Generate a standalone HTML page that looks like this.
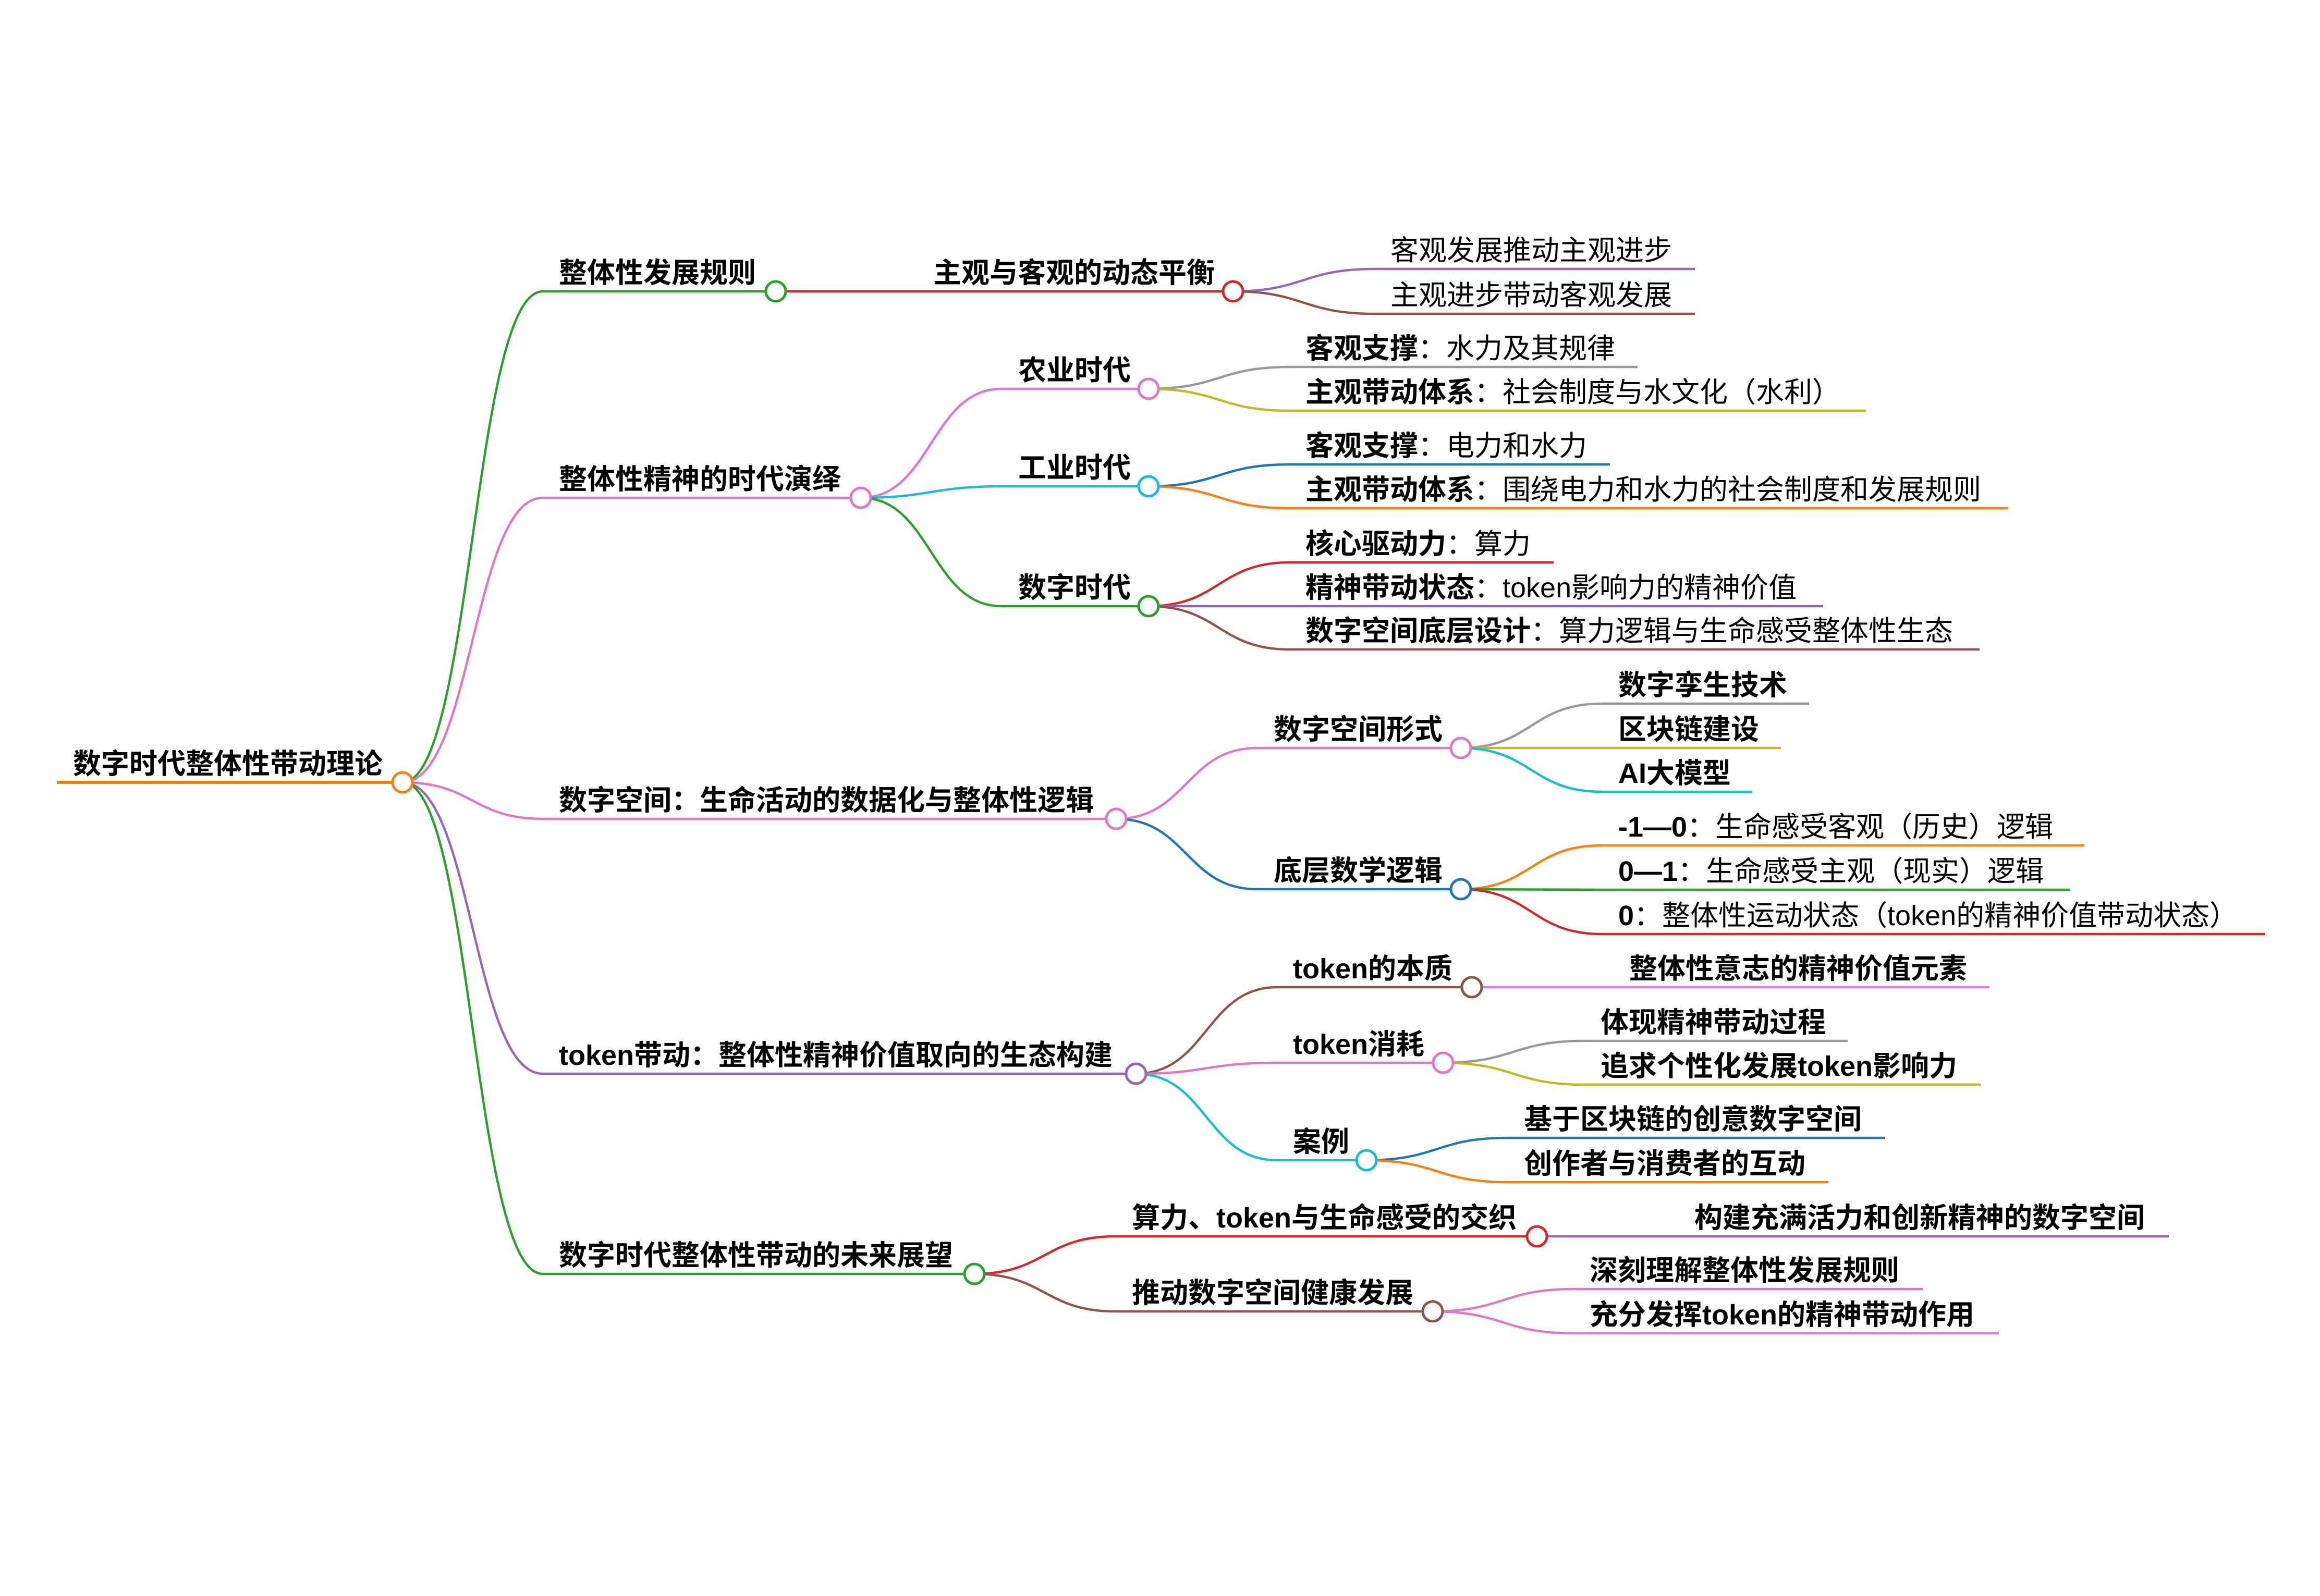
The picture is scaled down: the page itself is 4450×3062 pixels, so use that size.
<!DOCTYPE html>
<html lang="zh">
<head>
<meta charset="utf-8">
<title>数字时代整体性带动理论</title>
<style>
  html,body{margin:0;padding:0;background:#ffffff;}
  svg{display:block;}
  text{font-family:"Liberation Sans","Noto Sans CJK SC",sans-serif;font-size:54px;fill:#000;}
  .b{font-weight:700;}
  .r{font-weight:400;}
  .lk{fill:none;stroke-width:4.5;}
  .ln{stroke-width:4.5;}
  .c{fill:#fff;stroke-width:5;}
</style>
</head>
<body>
<svg width="4450" height="3062" viewBox="0 0 4450 3062" xmlns="http://www.w3.org/2000/svg">
<rect x="0" y="0" width="4450" height="3062" fill="#fff"/>

<!-- ===== LINKS ===== -->
<g class="links">
  <!-- root -> level1 -->
  <path class="lk" stroke="#2ca02c" d="M772 1501 C906.5 1501 906.5 559 1041 559"/>
  <path class="lk" stroke="#e377c2" d="M772 1501 C906.5 1501 906.5 955 1041 955"/>
  <path class="lk" stroke="#e377c2" d="M772 1501 C906.5 1501 906.5 1571 1041 1571"/>
  <path class="lk" stroke="#9467bd" d="M772 1501 C906.5 1501 906.5 2060 1041 2060"/>
  <path class="lk" stroke="#2ca02c" d="M772 1501 C906.5 1501 906.5 2444 1041 2444"/>

  <!-- A -> A1 -->
  <path class="lk" stroke="#d62728" d="M1488 559 L1758 559"/>
  <!-- A1 -> leaves -->
  <path class="lk" stroke="#9467bd" d="M2365 559 C2500 559 2500 516 2635 516"/>
  <path class="lk" stroke="#8c564b" d="M2365 559 C2500 559 2500 602 2635 602"/>

  <!-- B -> B1..B3 -->
  <path class="lk" stroke="#e377c2" d="M1651 955 C1786 955 1786 746 1921 746"/>
  <path class="lk" stroke="#17becf" d="M1651 955 C1786 955 1786 933 1921 933"/>
  <path class="lk" stroke="#2ca02c" d="M1651 955 C1786 955 1786 1163 1921 1163"/>
  <!-- B1 leaves -->
  <path class="lk" stroke="#999999" d="M2203 746 C2338 746 2338 704 2473 704"/>
  <path class="lk" stroke="#bcbd22" d="M2203 746 C2338 746 2338 788 2473 788"/>
  <!-- B2 leaves -->
  <path class="lk" stroke="#1f77b4" d="M2203 933 C2338 933 2338 891 2473 891"/>
  <path class="lk" stroke="#ff7f0e" d="M2203 933 C2338 933 2338 975 2473 975"/>
  <!-- B3 leaves -->
  <path class="lk" stroke="#d62728" d="M2203 1163 C2338 1163 2338 1079 2473 1079"/>
  <path class="lk" stroke="#9467bd" d="M2203 1163 L2473 1163"/>
  <path class="lk" stroke="#8c564b" d="M2203 1163 C2338 1163 2338 1246 2473 1246"/>

  <!-- C -> C1, C2 -->
  <path class="lk" stroke="#e377c2" d="M2141 1571 C2276 1571 2276 1435 2411 1435"/>
  <path class="lk" stroke="#1f77b4" d="M2141 1571 C2276 1571 2276 1706 2411 1706"/>
  <!-- C1 leaves -->
  <path class="lk" stroke="#999999" d="M2802 1435 C2937 1435 2937 1350 3072 1350"/>
  <path class="lk" stroke="#bcbd22" d="M2802 1435 L3072 1435"/>
  <path class="lk" stroke="#17becf" d="M2802 1435 C2937 1435 2937 1519 3072 1519"/>
  <!-- C2 leaves -->
  <path class="lk" stroke="#ff7f0e" d="M2802 1706 C2937 1706 2937 1622 3072 1622"/>
  <path class="lk" stroke="#2ca02c" d="M2802 1706 L3072 1707"/>
  <path class="lk" stroke="#d62728" d="M2802 1706 C2937 1706 2937 1792 3072 1792"/>

  <!-- D -> D1..D3 -->
  <path class="lk" stroke="#8c564b" d="M2179 2060 C2314 2060 2314 1894 2449 1894"/>
  <path class="lk" stroke="#e377c2" d="M2179 2060 C2314 2060 2314 2039 2449 2039"/>
  <path class="lk" stroke="#17becf" d="M2179 2060 C2314 2060 2314 2226 2449 2226"/>
  <!-- D1 leaf -->
  <path class="lk" stroke="#e377c2" d="M2823 1894 L3093 1894"/>
  <!-- D2 leaves -->
  <path class="lk" stroke="#999999" d="M2768 2039 C2903 2039 2903 1997 3038 1997"/>
  <path class="lk" stroke="#bcbd22" d="M2768 2039 C2903 2039 2903 2081 3038 2081"/>
  <!-- D3 leaves -->
  <path class="lk" stroke="#1f77b4" d="M2621 2226 C2756 2226 2756 2183 2891 2183"/>
  <path class="lk" stroke="#ff7f0e" d="M2621 2226 C2756 2226 2756 2268 2891 2268"/>

  <!-- E -> E1, E2 -->
  <path class="lk" stroke="#d62728" d="M1869 2444 C2004 2444 2004 2372 2139 2372"/>
  <path class="lk" stroke="#8c564b" d="M1869 2444 C2004 2444 2004 2516 2139 2516"/>
  <!-- E1 leaf -->
  <path class="lk" stroke="#9467bd" d="M2948 2372 L3218 2372"/>
  <!-- E2 leaves -->
  <path class="lk" stroke="#e377c2" d="M2748 2516 C2883 2516 2883 2473 3018 2473"/>
  <path class="lk" stroke="#e377c2" d="M2748 2516 C2883 2516 2883 2558 3018 2558"/>
</g>

<!-- ===== UNDERLINES ===== -->
<g class="lines">
  <line x1="109" y1="1501" x2="772" y2="1501" stroke="#ff7f0e" stroke-width="6"/>

  <line class="ln" x1="1041" y1="559" x2="1488" y2="559" stroke="#2ca02c"/>
  <line class="ln" x1="1041" y1="955" x2="1651" y2="955" stroke="#e377c2"/>
  <line class="ln" x1="1041" y1="1571" x2="2141" y2="1571" stroke="#e377c2"/>
  <line class="ln" x1="1041" y1="2060" x2="2179" y2="2060" stroke="#9467bd"/>
  <line class="ln" x1="1041" y1="2444" x2="1869" y2="2444" stroke="#2ca02c"/>

  <line class="ln" x1="1758" y1="559" x2="2365" y2="559" stroke="#d62728"/>
  <line class="ln" x1="2635" y1="516" x2="3251" y2="516" stroke="#9467bd"/>
  <line class="ln" x1="2635" y1="602" x2="3251" y2="602" stroke="#8c564b"/>

  <line class="ln" x1="1921" y1="746" x2="2203" y2="746" stroke="#e377c2"/>
  <line class="ln" x1="1921" y1="933" x2="2203" y2="933" stroke="#17becf"/>
  <line class="ln" x1="1921" y1="1163" x2="2203" y2="1163" stroke="#2ca02c"/>

  <line class="ln" x1="2473" y1="704" x2="3141" y2="704" stroke="#999999"/>
  <line class="ln" x1="2473" y1="788" x2="3579" y2="788" stroke="#bcbd22"/>
  <line class="ln" x1="2473" y1="891" x2="3088" y2="891" stroke="#1f77b4"/>
  <line class="ln" x1="2473" y1="975" x2="3852" y2="975" stroke="#ff7f0e"/>
  <line class="ln" x1="2473" y1="1079" x2="2980" y2="1079" stroke="#d62728"/>
  <line class="ln" x1="2473" y1="1163" x2="3497" y2="1163" stroke="#9467bd"/>
  <line class="ln" x1="2473" y1="1246" x2="3797" y2="1246" stroke="#8c564b"/>

  <line class="ln" x1="2411" y1="1435" x2="2802" y2="1435" stroke="#e377c2"/>
  <line class="ln" x1="2411" y1="1706" x2="2802" y2="1706" stroke="#1f77b4"/>

  <line class="ln" x1="3072" y1="1350" x2="3470" y2="1350" stroke="#999999"/>
  <line class="ln" x1="3072" y1="1435" x2="3416" y2="1435" stroke="#bcbd22"/>
  <line class="ln" x1="3072" y1="1519" x2="3361" y2="1519" stroke="#17becf"/>
  <line class="ln" x1="3072" y1="1622" x2="3998" y2="1622" stroke="#ff7f0e"/>
  <line class="ln" x1="3072" y1="1707" x2="3971" y2="1707" stroke="#2ca02c"/>
  <line class="ln" x1="3072" y1="1792" x2="4345" y2="1792" stroke="#d62728"/>

  <line class="ln" x1="2449" y1="1894" x2="2823" y2="1894" stroke="#8c564b"/>
  <line class="ln" x1="2449" y1="2039" x2="2768" y2="2039" stroke="#e377c2"/>
  <line class="ln" x1="2449" y1="2226" x2="2621" y2="2226" stroke="#17becf"/>

  <line class="ln" x1="3093" y1="1894" x2="3816" y2="1894" stroke="#e377c2"/>
  <line class="ln" x1="3038" y1="1997" x2="3544" y2="1997" stroke="#999999"/>
  <line class="ln" x1="3038" y1="2081" x2="3800" y2="2081" stroke="#bcbd22"/>
  <line class="ln" x1="2891" y1="2183" x2="3616" y2="2183" stroke="#1f77b4"/>
  <line class="ln" x1="2891" y1="2268" x2="3507" y2="2268" stroke="#ff7f0e"/>

  <line class="ln" x1="2139" y1="2372" x2="2948" y2="2372" stroke="#d62728"/>
  <line class="ln" x1="2139" y1="2516" x2="2748" y2="2516" stroke="#8c564b"/>

  <line class="ln" x1="3218" y1="2372" x2="4160" y2="2372" stroke="#9467bd"/>
  <line class="ln" x1="3018" y1="2473" x2="3688" y2="2473" stroke="#e377c2"/>
  <line class="ln" x1="3018" y1="2558" x2="3834" y2="2558" stroke="#e377c2"/>
</g>

<!-- ===== CIRCLES ===== -->
<g class="circles">
  <circle class="c" cx="772" cy="1501" r="19" stroke="#ff7f0e"/>
  <circle class="c" cx="1488" cy="559" r="19" stroke="#2ca02c"/>
  <circle class="c" cx="1651" cy="955" r="19" stroke="#e377c2"/>
  <circle class="c" cx="2141" cy="1571" r="19" stroke="#e377c2"/>
  <circle class="c" cx="2179" cy="2060" r="19" stroke="#9467bd"/>
  <circle class="c" cx="1869" cy="2444" r="19" stroke="#2ca02c"/>
  <circle class="c" cx="2365" cy="559" r="19" stroke="#d62728"/>
  <circle class="c" cx="2203" cy="746" r="19" stroke="#e377c2"/>
  <circle class="c" cx="2203" cy="933" r="19" stroke="#17becf"/>
  <circle class="c" cx="2203" cy="1163" r="19" stroke="#2ca02c"/>
  <circle class="c" cx="2802" cy="1435" r="19" stroke="#e377c2"/>
  <circle class="c" cx="2802" cy="1706" r="19" stroke="#1f77b4"/>
  <circle class="c" cx="2823" cy="1894" r="19" stroke="#8c564b"/>
  <circle class="c" cx="2768" cy="2039" r="19" stroke="#e377c2"/>
  <circle class="c" cx="2621" cy="2226" r="19" stroke="#17becf"/>
  <circle class="c" cx="2948" cy="2372" r="19" stroke="#d62728"/>
  <circle class="c" cx="2748" cy="2516" r="19" stroke="#8c564b"/>
</g>

<!-- ===== TEXT ===== -->
<g class="texts">
  <text class="b" x="140" y="1484">数字时代整体性带动理论</text>

  <text class="b" x="1072" y="542">整体性发展规则</text>
  <text class="b" x="1072" y="938">整体性精神的时代演绎</text>
  <text class="b" x="1072" y="1554">数字空间：生命活动的数据化与整体性逻辑</text>
  <text class="b" x="1072" y="2043">token带动：整体性精神价值取向的生态构建</text>
  <text class="b" x="1072" y="2427">数字时代整体性带动的未来展望</text>

  <text class="b" x="1790" y="542">主观与客观的动态平衡</text>
  <text class="r" x="2667" y="499">客观发展推动主观进步</text>
  <text class="r" x="2667" y="585">主观进步带动客观发展</text>

  <text class="b" x="1953" y="729">农业时代</text>
  <text class="b" x="1953" y="916">工业时代</text>
  <text class="b" x="1953" y="1146">数字时代</text>

  <text x="2504" y="687"><tspan class="b">客观支撑</tspan><tspan class="r">：水力及其规律</tspan></text>
  <text x="2504" y="771"><tspan class="b">主观带动体系</tspan><tspan class="r">：社会制度与水文化（水利）</tspan></text>
  <text x="2504" y="874"><tspan class="b">客观支撑</tspan><tspan class="r">：电力和水力</tspan></text>
  <text x="2504" y="958"><tspan class="b">主观带动体系</tspan><tspan class="r">：围绕电力和水力的社会制度和发展规则</tspan></text>
  <text x="2504" y="1062"><tspan class="b">核心驱动力</tspan><tspan class="r">：算力</tspan></text>
  <text x="2504" y="1146"><tspan class="b">精神带动状态</tspan><tspan class="r">：token影响力的精神价值</tspan></text>
  <text x="2504" y="1229"><tspan class="b">数字空间底层设计</tspan><tspan class="r">：算力逻辑与生命感受整体性生态</tspan></text>

  <text class="b" x="2443" y="1418">数字空间形式</text>
  <text class="b" x="2443" y="1689">底层数学逻辑</text>

  <text class="b" x="3104" y="1333">数字孪生技术</text>
  <text class="b" x="3104" y="1418">区块链建设</text>
  <text class="b" x="3104" y="1502">AI大模型</text>
  <text x="3104" y="1605"><tspan class="b">-1—0</tspan><tspan class="r">：生命感受客观（历史）逻辑</tspan></text>
  <text x="3104" y="1690"><tspan class="b">0—1</tspan><tspan class="r">：生命感受主观（现实）逻辑</tspan></text>
  <text x="3104" y="1775"><tspan class="b">0</tspan><tspan class="r">：整体性运动状态（token的精神价值带动状态）</tspan></text>

  <text class="b" x="2480" y="1877">token的本质</text>
  <text class="b" x="2480" y="2022">token消耗</text>
  <text class="b" x="2480" y="2209">案例</text>

  <text class="b" x="3125" y="1877">整体性意志的精神价值元素</text>
  <text class="b" x="3070" y="1980">体现精神带动过程</text>
  <text class="b" x="3070" y="2064">追求个性化发展token影响力</text>
  <text class="b" x="2923" y="2166">基于区块链的创意数字空间</text>
  <text class="b" x="2923" y="2251">创作者与消费者的互动</text>

  <text class="b" x="2171" y="2355">算力、token与生命感受的交织</text>
  <text class="b" x="2171" y="2499">推动数字空间健康发展</text>

  <text class="b" x="3250" y="2355">构建充满活力和创新精神的数字空间</text>
  <text class="b" x="3049" y="2456">深刻理解整体性发展规则</text>
  <text class="b" x="3049" y="2541">充分发挥token的精神带动作用</text>
</g>
</svg>
</body>
</html>
